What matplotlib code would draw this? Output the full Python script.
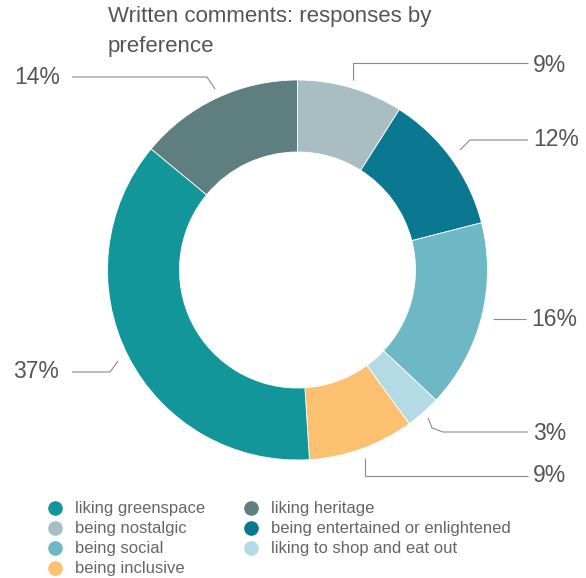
import numpy as np
import matplotlib.pyplot as plt

plt.rcParams['font.family'] = ['Liberation Sans', 'DejaVu Sans']

# data, clockwise from 12 o'clock
categories = ['being nostalgic', 'being entertained or enlightened', 'being social',
              'liking to shop and eat out', 'being inclusive', 'liking greenspace',
              'liking heritage']
shares = [9, 12, 16, 3, 9, 37, 14]
colors = ['#a8bec2', '#0b7892', '#6eb7c5', '#b4dbe5', '#fcc071', '#12969a', '#5f7e80']
pct_labels = ['9%', '12%', '16%', '3%', '9%', '37%', '14%']

legend_order = ['liking greenspace', 'being nostalgic', 'being social', 'being inclusive',
                'liking heritage', 'being entertained or enlightened', 'liking to shop and eat out']

W, H = 586, 578
fig = plt.figure(figsize=(W / 100, H / 100), dpi=100)
ax = fig.add_axes([0, 0, 1, 1])

cx, cy, R = 297.5, 270, 190

# y axis gets inverted below, so counter-clockwise here reads clockwise on screen
ax.pie(shares, colors=colors, startangle=-90, counterclock=True,
       center=(cx, cy), radius=R, frame=True,
       wedgeprops=dict(width=72, linewidth=0.6, edgecolor='white'))
ax.set_xlim(0, W)
ax.set_ylim(H, 0)
ax.axis('off')
ax.set_aspect('equal')

# leader lines (pixel layout) and label anchor
leaders = [
    ([(353, 80), (353, 63), (528, 63)], 533, 66),
    ([(460, 150), (470, 140), (528, 140)], 533, 139),
    ([(493, 319), (526, 319)], 531, 320),
    ([(428, 418), (432, 428), (443, 432), (528, 432)], 533, 434),
    ([(365, 458), (365, 476), (528, 476)], 533, 476),
    ([(118, 361), (110, 372), (72, 372)], 13, 371),
    ([(215, 89), (207, 77), (72, 77)], 14, 77),
]
for lab, (pts, tx, ty) in zip(pct_labels, leaders):
    xs, ys = zip(*pts)
    ax.plot(xs, ys, color='#8a8a8a', lw=0.8, solid_capstyle='butt')
    ax.text(tx, ty, lab, fontsize=16.5, color='#555555', ha='left', va='center')

ax.text(108, 22, 'Written comments: responses by', fontsize=16, color='#555555',
        ha='left', va='baseline')
ax.text(108, 52, 'preference', fontsize=16, color='#555555', ha='left', va='baseline')

# legend, filled column by column
col_x = [55, 251]
for i, name in enumerate(legend_order):
    col, row = divmod(i, 4)
    y = 508 + row * 20
    c = colors[categories.index(name)]
    ax.plot(col_x[col], y, 'o', ms=9.5, color=c, mec=c)
    ax.text(col_x[col] + 20, y, name, fontsize=12, color='#666666', ha='left', va='center')

fig.savefig('out.png', dpi=100)
